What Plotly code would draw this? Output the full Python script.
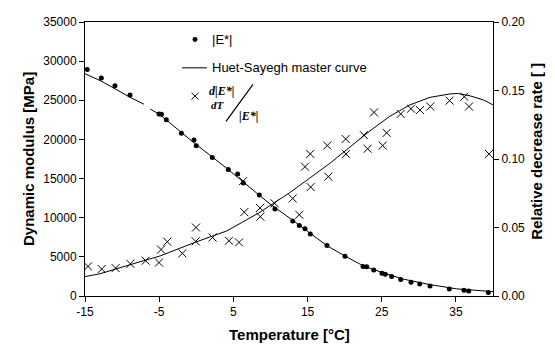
import plotly.graph_objects as go

# ---- data ----
temp_E = [-14.7, -12.8, -10.96, -8.93, -5.02, -4.7, -4.04, -2.0, -0.31, 0.0, 2.16, 4.32, 5.58, 6.34,
          8.5, 10.6, 13.0, 13.89, 14.66, 15.37, 17.62, 20.05, 22.48, 22.97, 23.92, 25.04, 25.48,
          26.34, 27.56, 28.95, 30.12, 31.51, 34.11, 36.09, 36.72, 39.37]
modulus_E = [28937, 27862, 26867, 25660, 23255, 23206, 22508, 20801, 19930, 19182, 17688, 16155,
             15570, 14449, 12917, 11124, 9591, 9008, 8595, 7930, 6436, 5066, 3778, 3737, 3321,
             2906, 2781, 2491, 2118, 1744, 1532, 1283, 909, 747, 623, 461]

temp_fit = [-15, -12.7, -8.9, -7.05, None, -6.2, -4.9, -0.4, 4.1, 8.6, 9.94, 13.0, 15.33, 17.6,
            20.05, 22.5, 25.2, 27.9, 31.5, 35.1, 40]
modulus_fit = [28400, 27400, 25370, 24500, None, 23880, 23170, 19640, 16320, 12790, 11750, 9680,
               8010, 6436, 5100, 3861, 2950, 2160, 1455, 913, 560]

temp_R = [-14.6, -12.75, -10.87, -8.89, -6.82, -5.02, -4.75, -3.9, -1.88, -0.08, -0.04, 2.2, 4.41,
          5.76, 6.3, 6.47, 8.6, 8.63, 10.57, 13.0, 13.89, 14.66, 15.37, 15.42, 17.66, 17.8, 20.14,
          20.18, 22.6, 23.1, 23.96, 25.13, 25.67, 27.56, 28.95, 30.16, 31.55, 34.15, 36.13, 36.77,
          39.46]
rate_R = [0.0216, 0.0197, 0.0204, 0.0235, 0.0258, 0.0244, 0.0339, 0.0396, 0.0311, 0.0399, 0.0500,
          0.0427, 0.0403, 0.0391, 0.0838, 0.0612, 0.0643, 0.0579, 0.0676, 0.0712, 0.0593, 0.0944,
          0.1037, 0.0795, 0.1098, 0.0871, 0.1146, 0.1037, 0.1174, 0.1075, 0.1340, 0.1098, 0.1191,
          0.1329, 0.1367, 0.1357, 0.1383, 0.1426, 0.1454, 0.1383, 0.1037]

temp_rfit = [-15, -13, -9.4, -4.9, -0.4, 4.1, 5.9, 8.6, 9.94, 12.6, 15.3, 18.0, 20.7, 23.4, 26.1,
             28.8, 31.5, 34.2, 35.3, 36.9, 38.7, 40]
rate_fit = [0.0142, 0.0162, 0.0221, 0.0292, 0.0387, 0.0475, 0.0529, 0.0612, 0.066, 0.0754, 0.0861,
            0.0968, 0.1087, 0.1205, 0.1312, 0.1395, 0.145, 0.1475, 0.1478, 0.1461, 0.1431, 0.1395]

x_ticks = [-15, -5, 5, 15, 25, 35]
x_tick_labels = ["-15", "-5", "5", "15", "25", "35"]
y_ticks = [0, 5000, 10000, 15000, 20000, 25000, 30000, 35000]
y2_ticks = [0.0, 0.05, 0.10, 0.15, 0.20]

legend_labels = ["|E*|", "Huet-Sayegh master curve"]

FONT = "Liberation Sans, Arial, sans-serif"
SERIF = "Liberation Serif, Times New Roman, serif"
WIN_W, WIN_H = 555, 356
OFF = 8                      # default page body margin
W, H = WIN_W - OFF, WIN_H - OFF
# plot area in screen pixels
SL, SR, ST, SB = 85, 493, 15, 296


def px(x):
    return (x - SL) / (SR - SL)


def py(y):
    return (SB - y) / (SB - ST)


fig = go.Figure()
fig.add_trace(go.Scatter(x=temp_E, y=modulus_E, mode="markers", name=legend_labels[0],
                         marker=dict(symbol="circle", size=5, color="black")))
fig.add_trace(go.Scatter(x=temp_fit, y=modulus_fit, mode="lines", name=legend_labels[1],
                         line=dict(color="black", width=1), connectgaps=False))
fig.add_trace(go.Scatter(x=temp_R, y=rate_R, mode="markers", yaxis="y2",
                         marker=dict(symbol="x-thin-open", size=8, color="black",
                                     line=dict(color="black", width=1))))
fig.add_trace(go.Scatter(x=temp_rfit, y=rate_fit, mode="lines", yaxis="y2",
                         line=dict(color="black", width=1)))

axis_common = dict(showline=True, linecolor="black", linewidth=1, ticks="outside", ticklen=5,
                   tickcolor="black", showgrid=False, zeroline=False,
                   tickfont=dict(family=FONT, size=12, color="black"))

fig.update_layout(
    width=W, height=H,
    margin=dict(l=SL - OFF, r=WIN_W - SR, t=ST - OFF, b=WIN_H - SB, pad=0),
    paper_bgcolor="white", plot_bgcolor="white",
    font=dict(family=FONT, color="black"),
    xaxis=dict(range=[-15, 40], tickvals=x_ticks, ticktext=x_tick_labels, mirror=True,
               **axis_common),
    yaxis=dict(range=[0, 35000], tickvals=y_ticks, tickformat="d", **axis_common),
    yaxis2=dict(range=[0, 0.2], tickvals=y2_ticks, tickformat=".2f", overlaying="y",
                side="right", **axis_common),
    showlegend=False,
)

annotations = [
    dict(text="<b>Dynamic modulus [MPa]</b>", x=px(28), y=py(155.5), textangle=-90,
         font=dict(size=15)),
    dict(text="<b>Relative decrease rate [ ]</b>", x=px(537), y=py(148), textangle=-90,
         font=dict(size=15)),
    dict(text="<b>Temperature [°C]</b>", x=px(289), y=py(335), font=dict(size=15)),
    dict(text=legend_labels[0], x=px(210), y=py(33), xanchor="left", font=dict(size=13)),
    dict(text=legend_labels[1], x=px(210), y=py(62), xanchor="left", font=dict(size=13)),
    dict(text="<b><i>d|E*|</i></b>", x=px(221), y=py(86), font=dict(family=SERIF, size=12)),
    dict(text="<b><i>dT</i></b>", x=px(218), y=py(100), font=dict(family=SERIF, size=11)),
    dict(text="<b><i>|E*|</i></b>", x=px(248), y=py(111), font=dict(family=SERIF, size=12)),
]
for a in annotations:
    a.update(xref="paper", yref="paper", showarrow=False, yanchor="middle")
    a.setdefault("xanchor", "center")
    a.setdefault("font", {})
    a["font"].setdefault("family", FONT)
    a["font"]["color"] = "black"
fig.update_layout(annotations=annotations)

# legend glyphs (decoration)
shapes = [
    dict(type="circle", x0=px(192.5), x1=px(197.5), y0=py(35.5), y1=py(30.5),
         fillcolor="black", line=dict(color="black", width=0)),
    dict(type="line", x0=px(182), x1=px(207), y0=py(62), y1=py(62),
         line=dict(color="black", width=1)),
    dict(type="line", x0=px(191.5), x1=px(198.5), y0=py(87.5), y1=py(94.5),
         line=dict(color="black", width=1)),
    dict(type="line", x0=px(191.5), x1=px(198.5), y0=py(94.5), y1=py(87.5),
         line=dict(color="black", width=1)),
    dict(type="line", x0=px(226), y0=py(117), x1=px(253), y1=py(79),
         line=dict(color="black", width=1.2)),
]
for s in shapes:
    s.update(xref="paper", yref="paper")
fig.update_layout(shapes=shapes)

fig.write_html("out.html")
